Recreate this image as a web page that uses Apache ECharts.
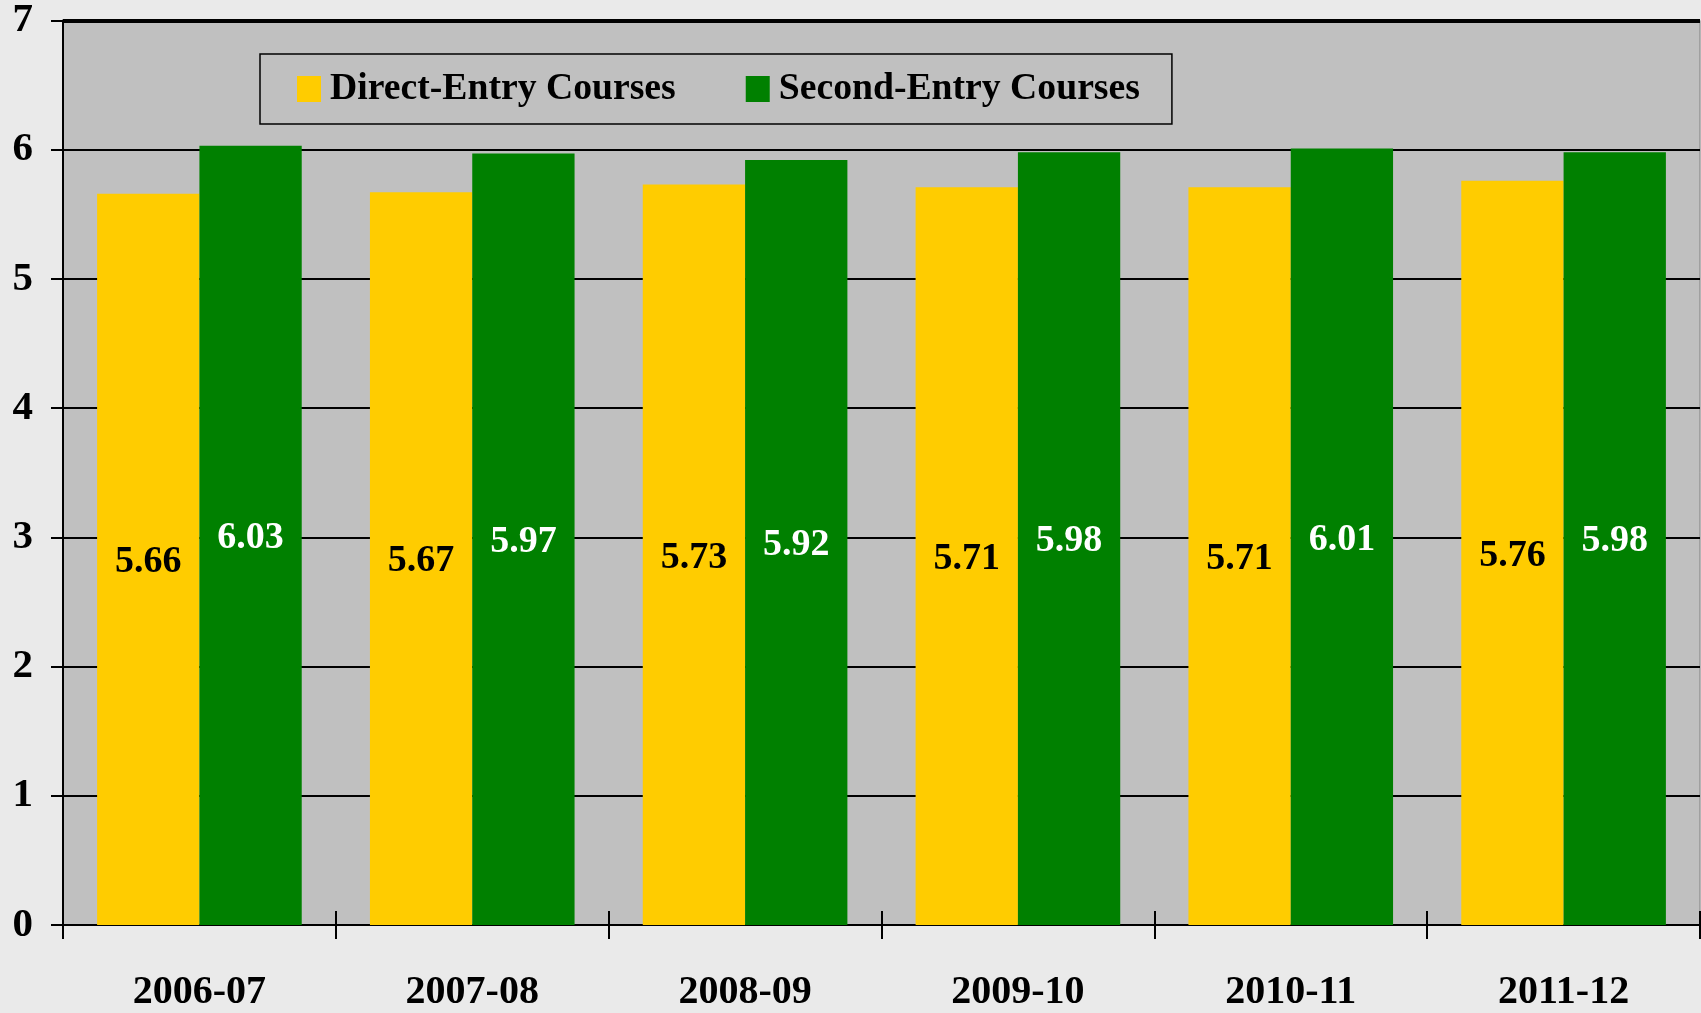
<!DOCTYPE html>
<html>
<head>
<meta charset="utf-8">
<script src="https://cdn.jsdelivr.net/npm/echarts@6/dist/echarts.min.js"></script>
<style>
html,body{margin:0;padding:0;background:#EAEAEA;}
#chart{width:1701px;height:1013px;}
</style>
</head>
<body>
<div id="chart"></div>
<script>
var categories = ['2006-07', '2007-08', '2008-09', '2009-10', '2010-11', '2011-12'];
var directEntry = [5.66, 5.67, 5.73, 5.71, 5.71, 5.76];
var secondEntry = [6.03, 5.97, 5.92, 5.98, 6.01, 5.98];
var seriesNames = ['Direct-Entry Courses', 'Second-Entry Courses'];
var yTicks = [0, 1, 2, 3, 4, 5, 6, 7];

var FONT = "'Liberation Serif', 'Times New Roman', serif";
var chart = echarts.init(document.getElementById('chart'), null, {renderer: 'canvas'});
chart.setOption({
  backgroundColor: '#EAEAEA',
  animation: false,
  textStyle: {fontFamily: FONT},
  legend: {
    left: 260, top: 54,
    padding: [16, 32, 16, 37],
    borderColor: '#000', borderWidth: 1.5,
    itemWidth: 24, itemHeight: 26, itemGap: 70,
    icon: 'rect',
    textStyle: {fontFamily: FONT, fontWeight: 'bold', fontSize: 37.7, color: '#000', padding: [0, 0, 0, 4]},
    data: seriesNames
  },
  grid: {
    left: 63, right: 1, top: 18, bottom: 86,
    show: true, backgroundColor: '#C0C0C0', borderColor: '#808080', borderWidth: 1
  },
  xAxis: [{
    type: 'category', data: categories, position: 'bottom',
    axisLine: {lineStyle: {color: '#000', width: 2}},
    axisTick: {show: true, length: 14, lineStyle: {color: '#000', width: 2}},
    axisLabel: {fontFamily: FONT, fontWeight: 'bold', fontSize: 40, color: '#000', margin: 48}
  }, {
    type: 'category', data: categories, position: 'bottom', offset: 0,
    axisLine: {show: false},
    axisTick: {show: true, inside: true, length: 14, lineStyle: {color: '#000', width: 2}},
    axisLabel: {show: false}
  }],
  yAxis: {
    type: 'value', min: yTicks[0], max: yTicks[yTicks.length - 1], interval: 1,
    axisLine: {show: true, lineStyle: {color: '#000', width: 2}},
    axisTick: {show: true, length: 12, lineStyle: {color: '#000', width: 2}},
    axisLabel: {fontFamily: FONT, fontWeight: 'bold', fontSize: 41, color: '#000', margin: 30},
    splitLine: {show: true, lineStyle: {color: '#000', width: 2}}
  },
  series: [{
    name: seriesNames[0], type: 'bar', data: directEntry, xAxisIndex: 0,
    barWidth: '37.5%', barGap: '0%',
    itemStyle: {color: '#FFCC00'},
    label: {show: true, position: 'inside', fontFamily: FONT, fontWeight: 'bold', fontSize: 38, color: '#000',
      offset: [0, 3],
      formatter: function (p) { return p.value.toFixed(2); }},
    markLine: {
      silent: true, symbol: 'none', label: {show: false},
      lineStyle: {color: '#000', width: 4, type: 'solid'},
      data: [{yAxis: yTicks[yTicks.length - 1]}]
    }
  }, {
    name: seriesNames[1], type: 'bar', data: secondEntry, xAxisIndex: 0,
    barWidth: '37.5%', barGap: '0%',
    itemStyle: {color: '#008000'},
    label: {show: true, position: 'inside', fontFamily: FONT, fontWeight: 'bold', fontSize: 38, color: '#FFF',
      offset: [0, 3],
      formatter: function (p) { return p.value.toFixed(2); }}
  }]
});
</script>
</body>
</html>
